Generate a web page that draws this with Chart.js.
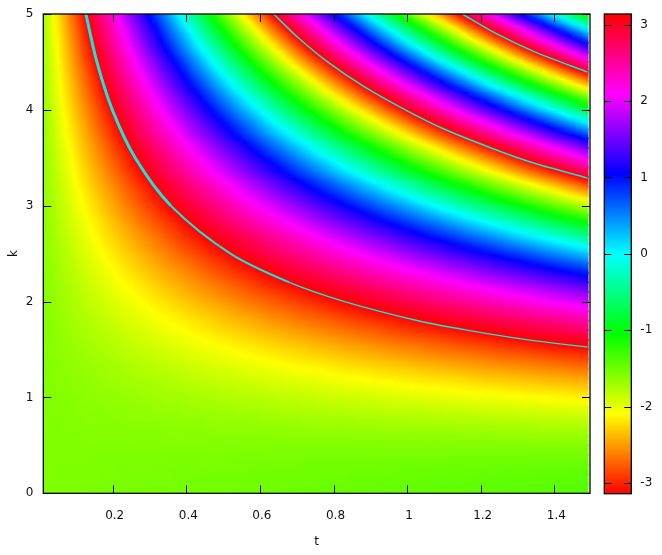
<!DOCTYPE html>
<html>
<head>
<meta charset="utf-8">
<script src="https://cdn.jsdelivr.net/npm/chart.js@4"></script>
<style>
  html, body { margin: 0; padding: 0; background: #fff; }
  #wrap { position: relative; width: 662px; height: 555px; }
  canvas { position: absolute; top: 0; }
</style>
</head>
<body>
<div id="wrap">
  <canvas id="map" width="662" height="555" style="left:0"></canvas>
  <canvas id="bar" width="72" height="555" style="left:590px"></canvas>
</div>
<script>
const xTicks = [0.2, 0.4, 0.6, 0.8, 1, 1.2, 1.4];
const yTicks = [0, 1, 2, 3, 4, 5];
const barTicks = [-3, -2, -1, 0, 1, 2, 3];
const paletteStops = ['#ff0000', '#ffff00', '#00ff00', '#00ffff', '#0000ff', '#ff00ff', '#ff0000'];

// cell centres, left to right and bottom to top
const tCentres = [0.03,0.07,0.11,0.15,0.19,0.23,0.27,0.31,0.35,0.39,0.43,0.47,0.51,0.55,0.59,0.63,0.67,0.71,0.75,0.79,0.83,0.87,0.91,0.95,0.99,1.03,1.07,1.11,1.15,1.19,1.23,1.27,1.31,1.35,1.39,1.43,1.47];
const kCentres = [0.05,0.15,0.25,0.35,0.45,0.55,0.65,0.75,0.85,0.95,1.05,1.15,1.25,1.35,1.45,1.55,1.65,1.75,1.85,1.95,2.05,2.15,2.25,2.35,2.45,2.55,2.65,2.75,2.85,2.95,3.05,3.15,3.25,3.35,3.45,3.55,3.65,3.75,3.85,3.95,4.05,4.15,4.25,4.35,4.45,4.55,4.65,4.75,4.85,4.95];

// phase read per cell, one line per k
const phase = [
[-1.57,-1.56,-1.56,-1.55,-1.55,-1.55,-1.54,-1.54,-1.53,-1.53,-1.52,-1.52,-1.52,-1.51,-1.51,-1.50,-1.50,-1.49,-1.49,-1.48,-1.48,-1.48,-1.47,-1.47,-1.46,-1.46,-1.45,-1.45,-1.45,-1.44,-1.44,-1.43,-1.43,-1.42,-1.42,-1.41,-1.41],
[-1.57,-1.56,-1.56,-1.56,-1.55,-1.55,-1.54,-1.54,-1.54,-1.53,-1.53,-1.52,-1.52,-1.52,-1.51,-1.51,-1.50,-1.50,-1.50,-1.49,-1.49,-1.48,-1.48,-1.48,-1.47,-1.47,-1.46,-1.46,-1.46,-1.45,-1.45,-1.44,-1.44,-1.44,-1.43,-1.43,-1.42],
[-1.57,-1.56,-1.56,-1.56,-1.56,-1.55,-1.55,-1.55,-1.54,-1.54,-1.54,-1.53,-1.53,-1.53,-1.52,-1.52,-1.52,-1.51,-1.51,-1.51,-1.51,-1.50,-1.50,-1.50,-1.49,-1.49,-1.49,-1.48,-1.48,-1.48,-1.47,-1.47,-1.47,-1.46,-1.46,-1.46,-1.45],
[-1.57,-1.57,-1.57,-1.56,-1.56,-1.56,-1.56,-1.56,-1.55,-1.55,-1.55,-1.55,-1.55,-1.54,-1.54,-1.54,-1.54,-1.54,-1.53,-1.53,-1.53,-1.53,-1.53,-1.52,-1.52,-1.52,-1.52,-1.52,-1.51,-1.51,-1.51,-1.51,-1.51,-1.50,-1.50,-1.50,-1.50],
[-1.57,-1.57,-1.57,-1.57,-1.57,-1.57,-1.57,-1.57,-1.57,-1.57,-1.57,-1.57,-1.57,-1.57,-1.57,-1.56,-1.56,-1.56,-1.56,-1.56,-1.56,-1.56,-1.56,-1.56,-1.56,-1.56,-1.56,-1.56,-1.56,-1.56,-1.56,-1.56,-1.56,-1.56,-1.56,-1.56,-1.56],
[-1.57,-1.57,-1.58,-1.58,-1.58,-1.58,-1.58,-1.58,-1.59,-1.59,-1.59,-1.59,-1.59,-1.59,-1.59,-1.60,-1.60,-1.60,-1.60,-1.60,-1.60,-1.61,-1.61,-1.61,-1.61,-1.61,-1.61,-1.62,-1.62,-1.62,-1.62,-1.62,-1.62,-1.63,-1.63,-1.63,-1.63],
[-1.57,-1.58,-1.58,-1.59,-1.59,-1.59,-1.60,-1.60,-1.61,-1.61,-1.61,-1.62,-1.62,-1.63,-1.63,-1.63,-1.64,-1.64,-1.65,-1.65,-1.65,-1.66,-1.66,-1.67,-1.67,-1.67,-1.68,-1.68,-1.69,-1.69,-1.69,-1.70,-1.70,-1.71,-1.71,-1.71,-1.72],
[-1.58,-1.58,-1.59,-1.60,-1.60,-1.61,-1.62,-1.62,-1.63,-1.64,-1.64,-1.65,-1.66,-1.66,-1.67,-1.68,-1.68,-1.69,-1.70,-1.71,-1.71,-1.72,-1.73,-1.73,-1.74,-1.75,-1.75,-1.76,-1.77,-1.77,-1.78,-1.79,-1.79,-1.80,-1.81,-1.81,-1.82],
[-1.58,-1.59,-1.60,-1.61,-1.62,-1.63,-1.64,-1.65,-1.66,-1.67,-1.68,-1.69,-1.70,-1.71,-1.72,-1.73,-1.74,-1.75,-1.76,-1.77,-1.78,-1.79,-1.80,-1.81,-1.82,-1.83,-1.84,-1.85,-1.86,-1.87,-1.88,-1.89,-1.90,-1.91,-1.92,-1.93,-1.94],
[-1.58,-1.59,-1.61,-1.62,-1.64,-1.65,-1.66,-1.68,-1.69,-1.70,-1.72,-1.73,-1.75,-1.76,-1.77,-1.79,-1.80,-1.81,-1.83,-1.84,-1.85,-1.87,-1.88,-1.90,-1.91,-1.92,-1.94,-1.95,-1.96,-1.98,-1.99,-2.00,-2.02,-2.03,-2.05,-2.06,-2.07],
[-1.58,-1.60,-1.62,-1.64,-1.65,-1.67,-1.69,-1.71,-1.73,-1.74,-1.76,-1.78,-1.80,-1.81,-1.83,-1.85,-1.87,-1.88,-1.90,-1.92,-1.94,-1.95,-1.97,-1.99,-2.01,-2.03,-2.04,-2.06,-2.08,-2.10,-2.11,-2.13,-2.15,-2.17,-2.18,-2.20,-2.22],
[-1.59,-1.61,-1.63,-1.65,-1.68,-1.70,-1.72,-1.74,-1.76,-1.79,-1.81,-1.83,-1.85,-1.87,-1.90,-1.92,-1.94,-1.96,-1.98,-2.01,-2.03,-2.05,-2.07,-2.09,-2.12,-2.14,-2.16,-2.18,-2.20,-2.23,-2.25,-2.27,-2.29,-2.31,-2.34,-2.36,-2.38],
[-1.59,-1.62,-1.64,-1.67,-1.70,-1.72,-1.75,-1.78,-1.80,-1.83,-1.86,-1.89,-1.91,-1.94,-1.97,-1.99,-2.02,-2.05,-2.07,-2.10,-2.13,-2.15,-2.18,-2.21,-2.23,-2.26,-2.29,-2.31,-2.34,-2.37,-2.40,-2.42,-2.45,-2.48,-2.50,-2.53,-2.56],
[-1.59,-1.63,-1.66,-1.69,-1.72,-1.75,-1.79,-1.82,-1.85,-1.88,-1.91,-1.95,-1.98,-2.01,-2.04,-2.07,-2.11,-2.14,-2.17,-2.20,-2.24,-2.27,-2.30,-2.33,-2.36,-2.40,-2.43,-2.46,-2.49,-2.52,-2.56,-2.59,-2.62,-2.65,-2.68,-2.72,-2.75],
[-1.60,-1.64,-1.67,-1.71,-1.75,-1.79,-1.83,-1.86,-1.90,-1.94,-1.98,-2.01,-2.05,-2.09,-2.13,-2.16,-2.20,-2.24,-2.28,-2.31,-2.35,-2.39,-2.43,-2.47,-2.50,-2.54,-2.58,-2.62,-2.65,-2.69,-2.73,-2.77,-2.80,-2.84,-2.88,-2.92,-2.95],
[-1.60,-1.65,-1.69,-1.73,-1.78,-1.82,-1.87,-1.91,-1.95,-1.99,-2.04,-2.08,-2.13,-2.17,-2.21,-2.26,-2.30,-2.34,-2.39,-2.43,-2.48,-2.52,-2.56,-2.61,-2.65,-2.69,-2.74,-2.78,-2.83,-2.87,-2.91,-2.96,-3.00,-3.04,-3.09,-3.13,3.11],
[-1.61,-1.66,-1.71,-1.76,-1.81,-1.86,-1.91,-1.96,-2.01,-2.06,-2.11,-2.16,-2.21,-2.26,-2.31,-2.36,-2.41,-2.46,-2.51,-2.56,-2.61,-2.66,-2.71,-2.76,-2.81,-2.86,-2.91,-2.96,-3.01,-3.06,-3.11,3.12,3.07,3.02,2.97,2.92,2.87],
[-1.61,-1.67,-1.73,-1.78,-1.84,-1.90,-1.95,-2.01,-2.07,-2.12,-2.18,-2.24,-2.30,-2.35,-2.41,-2.47,-2.52,-2.58,-2.64,-2.69,-2.75,-2.81,-2.86,-2.92,-2.98,-3.03,-3.09,3.14,3.08,3.02,2.96,2.91,2.85,2.79,2.74,2.68,2.62],
[-1.62,-1.68,-1.75,-1.81,-1.87,-1.94,-2.00,-2.07,-2.13,-2.19,-2.26,-2.32,-2.39,-2.45,-2.51,-2.58,-2.64,-2.71,-2.77,-2.83,-2.90,-2.96,-3.03,-3.09,3.13,3.06,3.00,2.93,2.87,2.81,2.74,2.68,2.61,2.55,2.49,2.42,2.36],
[-1.62,-1.70,-1.77,-1.84,-1.91,-1.98,-2.05,-2.13,-2.20,-2.27,-2.34,-2.41,-2.48,-2.56,-2.63,-2.70,-2.77,-2.84,-2.91,-2.99,-3.06,-3.13,3.08,3.01,2.94,2.87,2.80,2.72,2.65,2.58,2.51,2.44,2.37,2.29,2.22,2.15,2.08],
[-1.63,-1.71,-1.79,-1.87,-1.95,-2.03,-2.11,-2.19,-2.27,-2.35,-2.43,-2.51,-2.59,-2.67,-2.75,-2.82,-2.90,-2.98,-3.06,-3.14,3.06,2.98,2.90,2.82,2.74,2.66,2.58,2.50,2.42,2.34,2.26,2.18,2.10,2.02,1.94,1.86,1.78],
[-1.64,-1.72,-1.81,-1.90,-1.99,-2.08,-2.16,-2.25,-2.34,-2.43,-2.52,-2.60,-2.69,-2.78,-2.87,-2.96,-3.04,-3.13,3.07,2.98,2.89,2.80,2.72,2.63,2.54,2.45,2.36,2.28,2.19,2.10,2.01,1.92,1.83,1.75,1.66,1.57,1.48],
[-1.64,-1.74,-1.84,-1.93,-2.03,-2.13,-2.22,-2.32,-2.42,-2.51,-2.61,-2.71,-2.81,-2.90,-3.00,-3.10,3.09,2.99,2.90,2.80,2.70,2.60,2.51,2.41,2.31,2.22,2.12,2.02,1.93,1.83,1.73,1.64,1.54,1.44,1.35,1.25,1.15],
[-1.65,-1.76,-1.86,-1.97,-2.07,-2.18,-2.29,-2.39,-2.50,-2.60,-2.71,-2.82,-2.92,-3.03,-3.13,3.04,2.94,2.83,2.73,2.62,2.51,2.41,2.30,2.20,2.09,1.98,1.88,1.77,1.67,1.56,1.45,1.35,1.24,1.14,1.03,0.92,0.82],
[-1.66,-1.77,-1.89,-2.00,-2.12,-2.24,-2.35,-2.47,-2.58,-2.70,-2.81,-2.93,-3.04,3.12,3.01,2.89,2.78,2.66,2.54,2.43,2.31,2.20,2.08,1.97,1.85,1.73,1.62,1.50,1.39,1.27,1.16,1.04,0.93,0.81,0.69,0.58,0.46],
[-1.67,-1.79,-1.92,-2.04,-2.17,-2.29,-2.42,-2.55,-2.67,-2.80,-2.92,-3.05,3.11,2.98,2.86,2.73,2.61,2.48,2.36,2.23,2.10,1.98,1.85,1.73,1.60,1.48,1.35,1.22,1.10,0.97,0.85,0.72,0.60,0.47,0.34,0.22,0.09],
[-1.67,-1.81,-1.94,-2.08,-2.22,-2.35,-2.49,-2.62,-2.76,-2.90,-3.03,-3.17,3.00,2.86,2.73,2.59,2.45,2.31,2.16,2.03,1.89,1.75,1.62,1.48,1.34,1.21,1.07,0.94,0.80,0.66,0.53,0.39,0.25,0.12,-0.02,-0.15,-0.29],
[-1.68,-1.83,-1.97,-2.12,-2.27,-2.41,-2.56,-2.71,-2.85,-3.00,-3.15,2.99,2.84,2.69,2.55,2.40,2.25,2.11,1.96,1.81,1.67,1.52,1.37,1.23,1.08,0.93,0.78,0.64,0.49,0.34,0.20,0.05,-0.10,-0.24,-0.39,-0.54,-0.68],
[-1.69,-1.85,-2.00,-2.16,-2.32,-2.48,-2.64,-2.80,-2.95,-3.11,3.02,2.86,2.70,2.54,2.38,2.23,2.07,1.91,1.75,1.59,1.43,1.28,1.12,0.96,0.80,0.64,0.49,0.33,0.17,0.01,-0.15,-0.30,-0.46,-0.62,-0.78,-0.94,-1.09],
[-1.70,-1.87,-2.04,-2.21,-2.38,-2.55,-2.72,-2.89,-3.06,3.06,2.89,2.72,2.55,2.38,2.21,2.04,1.87,1.70,1.53,1.36,1.19,1.02,0.85,0.68,0.51,0.34,0.17,0.00,-0.17,-0.34,-0.50,-0.67,-0.84,-1.01,-1.18,-1.35,-1.52],
[-1.71,-1.89,-2.07,-2.25,-2.43,-2.62,-2.80,-2.98,-3.16,2.94,2.76,2.58,2.40,2.21,2.03,1.85,1.67,1.49,1.31,1.12,0.94,0.76,0.58,0.40,0.22,0.03,-0.15,-0.33,-0.51,-0.69,-0.87,-1.06,-1.24,-1.42,-1.60,-1.78,-1.96],
[-1.72,-1.91,-2.10,-2.30,-2.49,-2.69,-2.88,-3.07,3.02,2.82,2.63,2.43,2.24,2.04,1.85,1.66,1.46,1.27,1.07,0.88,0.69,0.49,0.30,0.10,-0.09,-0.29,-0.48,-0.67,-0.87,-1.06,-1.26,-1.45,-1.64,-1.84,-2.03,-2.23,-2.42],
[-1.73,-1.93,-2.14,-2.35,-2.55,-2.76,-2.97,-3.17,2.90,2.70,2.49,2.28,2.08,1.87,1.66,1.46,1.25,1.04,0.84,0.63,0.42,0.22,0.01,-0.20,-0.40,-0.61,-0.82,-1.02,-1.23,-1.44,-1.65,-1.85,-2.06,-2.27,-2.47,-2.68,-2.89],
[-1.74,-1.96,-2.18,-2.40,-2.62,-2.84,-3.06,2.99,2.77,2.55,2.33,2.11,1.89,1.67,1.45,1.23,1.01,0.79,0.57,0.35,0.13,-0.09,-0.31,-0.53,-0.75,-0.97,-1.19,-1.41,-1.63,-1.85,-2.07,-2.29,-2.51,-2.73,-2.95,-3.17,2.89],
[-1.75,-1.98,-2.21,-2.45,-2.68,-2.91,-3.15,2.90,2.67,2.43,2.20,1.97,1.73,1.50,1.26,1.03,0.80,0.56,0.33,0.10,-0.14,-0.37,-0.60,-0.84,-1.07,-1.31,-1.54,-1.77,-2.01,-2.24,-2.47,-2.71,-2.94,-3.18,2.87,2.64,2.40],
[-1.76,-2.00,-2.25,-2.50,-2.75,-2.99,-3.24,2.79,2.54,2.29,2.05,1.80,1.55,1.31,1.06,0.81,0.57,0.32,0.07,-0.18,-0.42,-0.67,-0.92,-1.16,-1.41,-1.66,-1.90,-2.15,-2.40,-2.64,-2.89,-3.14,2.89,2.64,2.39,2.15,1.90],
[-1.77,-2.03,-2.29,-2.55,-2.81,-3.08,2.94,2.68,2.42,2.16,1.90,1.64,1.38,1.12,0.85,0.59,0.33,0.07,-0.19,-0.45,-0.71,-0.97,-1.23,-1.49,-1.76,-2.02,-2.28,-2.54,-2.80,-3.06,2.96,2.70,2.44,2.18,1.91,1.65,1.39],
[-1.78,-2.06,-2.33,-2.61,-2.89,-3.16,2.83,2.55,2.28,2.00,1.72,1.45,1.17,0.89,0.62,0.34,0.07,-0.21,-0.49,-0.76,-1.04,-1.32,-1.59,-1.87,-2.14,-2.42,-2.70,-2.97,3.03,2.75,2.47,2.20,1.92,1.65,1.37,1.09,0.82],
[-1.79,-2.08,-2.37,-2.67,-2.96,-3.25,2.74,2.45,2.16,1.87,1.57,1.28,0.99,0.70,0.41,0.11,-0.18,-0.47,-0.76,-1.05,-1.35,-1.64,-1.93,-2.22,-2.51,-2.81,-3.10,2.89,2.60,2.31,2.02,1.72,1.43,1.14,0.85,0.56,0.26],
[-1.80,-2.11,-2.42,-2.72,-3.03,2.94,2.64,2.33,2.02,1.71,1.41,1.10,0.79,0.48,0.18,-0.13,-0.44,-0.75,-1.05,-1.36,-1.67,-1.98,-2.28,-2.59,-2.90,3.07,2.77,2.46,2.15,1.84,1.54,1.23,0.92,0.61,0.31,0.00,-0.31],
[-1.81,-2.14,-2.46,-2.78,-3.11,2.85,2.52,2.20,1.88,1.55,1.23,0.91,0.58,0.26,-0.06,-0.39,-0.71,-1.03,-1.36,-1.68,-2.01,-2.33,-2.65,-2.98,2.98,2.66,2.34,2.01,1.69,1.36,1.04,0.72,0.39,0.07,-0.25,-0.58,-0.90],
[-1.83,-2.17,-2.51,-2.85,-3.19,2.76,2.42,2.08,1.74,1.40,1.06,0.72,0.38,0.04,-0.30,-0.64,-0.98,-1.32,-1.66,-2.00,-2.34,-2.68,-3.02,2.94,2.60,2.26,1.92,1.58,1.24,0.90,0.56,0.22,-0.12,-0.46,-0.80,-1.14,-1.48],
[-1.84,-2.20,-2.55,-2.91,-3.27,2.66,2.30,1.95,1.59,1.23,0.88,0.52,0.16,-0.20,-0.55,-0.91,-1.27,-1.62,-1.98,-2.34,-2.69,-3.05,2.88,2.52,2.16,1.81,1.45,1.09,0.74,0.38,0.02,-0.33,-0.69,-1.05,-1.40,-1.76,-2.12],
[-1.85,-2.23,-2.60,-2.97,-3.35,2.56,2.19,1.82,1.44,1.07,0.69,0.32,-0.05,-0.43,-0.80,-1.17,-1.55,-1.92,-2.30,-2.67,-3.04,2.86,2.49,2.11,1.74,1.37,0.99,0.62,0.25,-0.13,-0.50,-0.87,-1.25,-1.62,-2.00,-2.37,-2.74],
[-1.86,-2.26,-2.65,-3.04,2.85,2.46,2.07,1.68,1.29,0.90,0.50,0.11,-0.28,-0.67,-1.06,-1.46,-1.85,-2.24,-2.63,-3.02,2.87,2.48,2.09,1.70,1.31,0.91,0.52,0.13,-0.26,-0.65,-1.05,-1.44,-1.83,-2.22,-2.61,-3.01,2.88],
[-1.88,-2.29,-2.70,-3.11,2.77,2.36,1.95,1.54,1.13,0.72,0.31,-0.10,-0.51,-0.92,-1.33,-1.74,-2.16,-2.57,-2.97,2.90,2.49,2.08,1.67,1.26,0.85,0.44,0.03,-0.38,-0.79,-1.20,-1.61,-2.02,-2.43,-2.84,3.03,2.62,2.21],
[-1.89,-2.32,-2.75,-3.18,2.67,2.24,1.82,1.39,0.96,0.53,0.10,-0.32,-0.75,-1.18,-1.61,-2.03,-2.46,-2.89,2.96,2.53,2.11,1.68,1.25,0.82,0.39,-0.03,-0.46,-0.89,-1.32,-1.74,-2.17,-2.60,-3.03,2.82,2.39,1.96,1.53],
[-1.91,-2.35,-2.80,-3.25,2.59,2.14,1.70,1.25,0.80,0.36,-0.09,-0.54,-0.98,-1.43,-1.88,-2.32,-2.77,3.07,2.62,2.17,1.73,1.28,0.83,0.39,-0.06,-0.51,-0.95,-1.40,-1.85,-2.29,-2.74,3.10,2.65,2.20,1.76,1.31,0.86],
[-1.92,-2.39,-2.85,-3.32,2.50,2.04,1.57,1.11,0.64,0.18,-0.29,-0.76,-1.22,-1.69,-2.15,-2.62,-3.08,2.74,2.28,1.81,1.35,0.88,0.41,-0.05,-0.52,-0.98,-1.45,-1.91,-2.38,-2.85,2.98,2.52,2.05,1.58,1.12,0.65,0.19],
[-1.94,-2.42,-2.91,2.89,2.41,1.92,1.44,0.95,0.47,-0.02,-0.50,-0.99,-1.48,-1.96,-2.45,-2.93,2.86,2.38,1.89,1.41,0.92,0.43,-0.05,-0.54,-1.02,-1.51,-1.99,-2.48,-2.96,2.83,2.35,1.86,1.37,0.89,0.40,-0.08,-0.57]
];

// where the phase wraps
const wrapT1 = [0.127,0.157,0.199,0.261,0.358,0.52,0.68,0.83,1.03,1.166,1.33,1.49];
const wrapK1 = [5,4.5,4,3.5,3,2.5,2.2,2,1.8,1.7,1.6,1.526];
const wrapT2 = [0.637,0.705,0.784,0.88,0.995,1.10,1.23,1.34,1.49];
const wrapK2 = [5,4.75,4.5,4.25,4,3.8,3.6,3.45,3.288];
const wrapT3 = [1.15,1.24,1.35,1.49];
const wrapK3 = [5,4.8,4.6,4.395];

const FONT = { family: '"DejaVu Sans"', size: 12 };
const INK = '#111';

function phaseColour(p) {
  let h = ((p + Math.PI) / (2 * Math.PI) * 360) % 360;
  if (h < 0) h += 360;
  return 'hsl(' + h + ', 100%, 50%)';
}

function wrapDiff(d) {
  while (d > Math.PI) d -= 2 * Math.PI;
  while (d < -Math.PI) d += 2 * Math.PI;
  return d;
}

// shade one cell along the local slope of the table so the blocks don't show
function cellShade(ctx) {
  if (ctx.type !== 'data' || !ctx.raw || !ctx.chart.chartArea) return 'transparent';
  let chart = ctx.chart, r = ctx.raw.row, c = ctx.raw.col;
  let xs = chart.scales.x, ys = chart.scales.y;
  let cx = xs.getPixelForValue(tCentres[c]);
  let cy = ys.getPixelForValue(kCentres[r]);
  if (!isFinite(cx) || !isFinite(cy)) return 'transparent';
  let c0 = Math.max(c - 1, 0), c1 = Math.min(c + 1, tCentres.length - 1);
  let r0 = Math.max(r - 1, 0), r1 = Math.min(r + 1, kCentres.length - 1);
  let gx = wrapDiff(phase[r][c1] - phase[r][c0]) / (xs.getPixelForValue(tCentres[c1]) - xs.getPixelForValue(tCentres[c0]));
  let gy = wrapDiff(phase[r1][c] - phase[r0][c]) / (ys.getPixelForValue(kCentres[r1]) - ys.getPixelForValue(kCentres[r0]));
  let g = Math.hypot(gx, gy);
  if (g === 0) return phaseColour(phase[r][c]);
  let nx = gx / g, ny = gy / g, L = 11;
  let grad = chart.ctx.createLinearGradient(cx - nx * L, cy - ny * L, cx + nx * L, cy + ny * L);
  for (let s = 0; s <= 6; s++) {
    grad.addColorStop(s / 6, phaseColour(phase[r][c] + g * L * (s / 3 - 1)));
  }
  return grad;
}

const frameTicks = {
  id: 'frameTicks',
  afterDraw(chart) {
    let ctx = chart.ctx, a = chart.chartArea;
    ctx.save();
    ctx.strokeStyle = '#000';
    ctx.lineWidth = 1;
    ctx.beginPath();
    let xs = chart.scales.x, ys = chart.scales.y;
    if (xs.options.display) {
      xs.ticks.forEach(t => {
        let x = Math.round(xs.getPixelForValue(t.value)) + 0.5;
        ctx.moveTo(x, a.bottom); ctx.lineTo(x, a.bottom - 8);
        ctx.moveTo(x, a.top); ctx.lineTo(x, a.top + 8);
      });
    }
    let len = xs.options.display ? 8 : 7;
    ys.ticks.forEach(t => {
      let y = Math.round(ys.getPixelForValue(t.value)) + 0.5;
      ctx.moveTo(a.left, y); ctx.lineTo(a.left + len, y);
      ctx.moveTo(a.right, y); ctx.lineTo(a.right - len, y);
    });
    ctx.stroke();
    ctx.lineWidth = 1.3;
    ctx.strokeRect(a.left, a.top, a.right - a.left, a.bottom - a.top);
    ctx.restore();
  }
};

let cells = [];
phase.forEach((line, r) => {
  line.forEach((p, c) => {
    cells.push({ x: tCentres[c], y: [kCentres[r] - 0.05, kCentres[r] + 0.05], row: r, col: c });
  });
});

function wrapLine(ts, ks, width) {
  return {
    type: 'line',
    data: ts.map((t, i) => ({ x: t, y: ks[i] })),
    borderColor: '#14e6e0',
    borderWidth: width,
    // the first curve reads thick where it is steep, thin further out
    segment: { borderWidth: c => width > 2 ? (c.p0.parsed.y > 3 ? 3 : (c.p0.parsed.y > 2.4 ? 2 : 1.4)) : width },
    pointRadius: 0,
    tension: 0.3,
    order: 0
  };
}

new Chart(document.getElementById('map'), {
  type: 'bar',
  data: {
    datasets: [
      wrapLine(wrapT1, wrapK1, 3),
      wrapLine(wrapT2, wrapK2, 1.5),
      wrapLine(wrapT3, wrapK3, 1.5),
      {
        data: cells,
        backgroundColor: cellShade,
        borderWidth: 0,
        barThickness: 15,
        inflateAmount: 1,
        grouped: false,
        order: 1
      }
    ]
  },
  plugins: [frameTicks],
  options: {
    responsive: false,
    animation: false,
    layout: { padding: { top: 14, right: 72, left: 0, bottom: 0 } },
    plugins: { legend: { display: false }, tooltip: { enabled: false } },
    scales: {
      x: {
        type: 'linear',
        min: 0.0114,
        max: 1.497,
        offset: false,
        grid: { display: false, drawTicks: false },
        border: { display: false },
        afterBuildTicks(s) { s.ticks = xTicks.map(v => ({ value: v })); },
        afterFit(s) { s.height = 61.7; s.paddingLeft = 0; s.paddingRight = 0; },
        ticks: { font: FONT, color: INK, padding: 15, autoSkip: false, maxRotation: 0, labelOffset: 2, callback: v => String(v) },
        title: { display: true, text: 't', font: FONT, color: INK, padding: { top: 0, bottom: 6 } }
      },
      y: {
        min: 0,
        max: 5,
        grid: { display: false, drawTicks: false },
        border: { display: false },
        afterBuildTicks(s) { s.ticks = yTicks.map(v => ({ value: v })); },
        afterFit(s) { s.width = 43.3; s.paddingTop = 0; s.paddingBottom = 0; },
        ticks: { font: FONT, color: INK, padding: 10, callback: v => String(v) },
        title: { display: true, text: 'k', font: FONT, color: INK, padding: { top: 7, bottom: 0 } }
      }
    }
  }
});

function barShade(ctx) {
  let ys = ctx.chart.scales.y;
  let y0 = ys ? ys.getPixelForValue(-3.14) : NaN, y1 = ys ? ys.getPixelForValue(3.14) : NaN;
  if (!ctx.chart.chartArea || !isFinite(y0) || !isFinite(y1)) return 'transparent';
  let grad = ctx.chart.ctx.createLinearGradient(0, y0, 0, y1);
  paletteStops.forEach((col, i) => grad.addColorStop(i / (paletteStops.length - 1), col));
  return grad;
}

new Chart(document.getElementById('bar'), {
  type: 'bar',
  data: {
    labels: ['phase'],
    datasets: [{ data: [[-3.14, 3.14]], backgroundColor: barShade, borderWidth: 0, categoryPercentage: 1, barPercentage: 1 }]
  },
  plugins: [frameTicks],
  options: {
    responsive: false,
    animation: false,
    layout: { padding: { top: 14, right: 0, left: 14.3, bottom: 61.3 } },
    plugins: { legend: { display: false }, tooltip: { enabled: false } },
    scales: {
      x: { display: false },
      y: {
        position: 'right',
        min: -3.14,
        max: 3.14,
        grid: { display: false, drawTicks: false },
        border: { display: false },
        afterBuildTicks(s) { s.ticks = barTicks.map(v => ({ value: v })); },
        afterFit(s) { s.width = 30.7; s.paddingTop = 0; s.paddingBottom = 0; },
        ticks: { font: FONT, color: INK, padding: 9, callback: v => String(v) }
      }
    }
  }
});
</script>
</body>
</html>
